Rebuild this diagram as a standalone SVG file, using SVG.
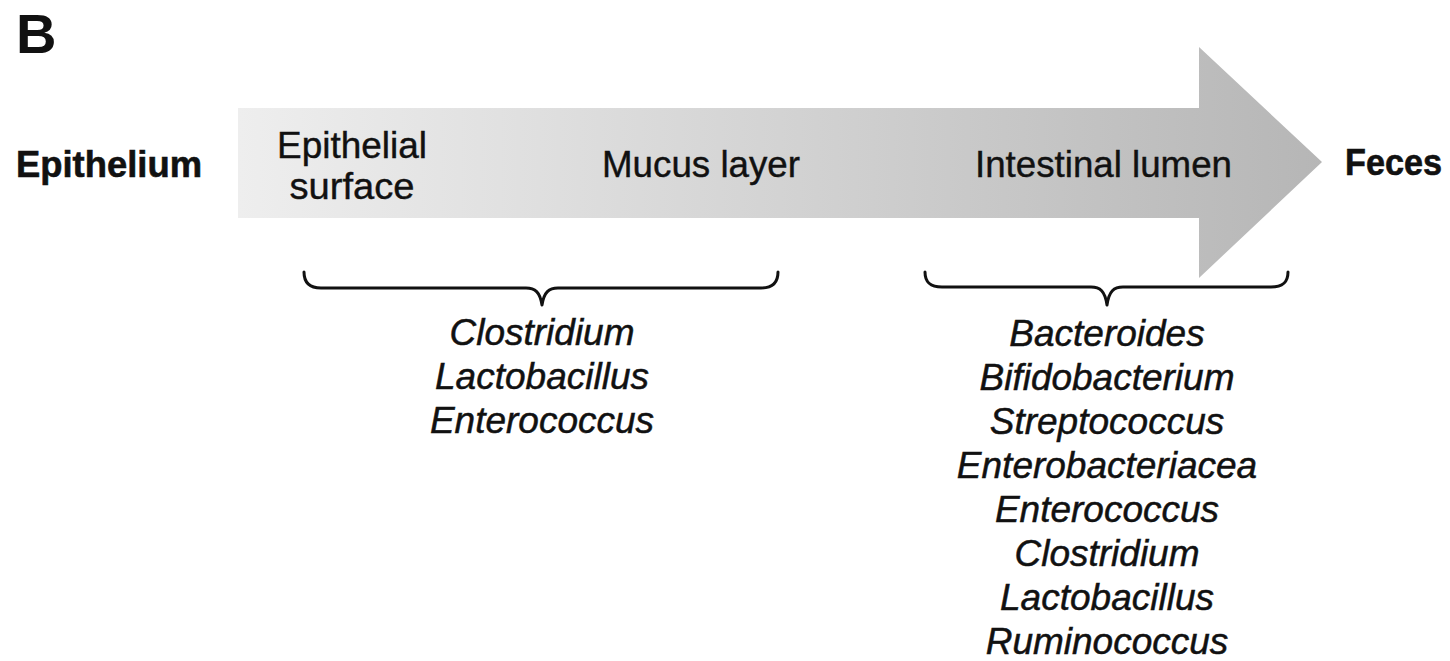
<svg xmlns="http://www.w3.org/2000/svg" width="1450" height="661" viewBox="0 0 1450 661">
<defs>
<linearGradient id="grad" gradientUnits="userSpaceOnUse" x1="238" y1="0" x2="1322" y2="0">
<stop offset="0" stop-color="#eeeeee"/>
<stop offset="0.5" stop-color="#d3d3d3"/>
<stop offset="1" stop-color="#b6b6b6"/>
</linearGradient>
<style>
text{font-family:"Liberation Sans",Arial,sans-serif;fill:#111}
.b{font-weight:bold}
.lab{font-size:36px;stroke:#111;stroke-width:0.4}
.b.lab{stroke-width:0.6}
.it{font-size:37px;font-style:italic;text-anchor:middle;stroke:#111;stroke-width:0.5}
.brace{fill:none;stroke:#111;stroke-width:3;stroke-linecap:round;stroke-linejoin:round}
</style>
</defs>
<rect width="1450" height="661" fill="#ffffff"/>
<text class="b" x="16" y="53" font-size="56">B</text>
<g id="arrow">
<path d="M238,108 L1199,108 L1199,47 L1322,162 L1199,278 L1199,218 L238,218 Z" fill="url(#grad)"/>
</g>
<g id="epithelium"><text class="b lab" x="16" y="177" textLength="186" lengthAdjust="spacingAndGlyphs">Epithelium</text></g>
<g id="feces"><text class="b lab" x="1345" y="175" textLength="97" lengthAdjust="spacingAndGlyphs">Feces</text></g>
<g id="epithelial-surface">
<text class="lab" x="352" y="158" text-anchor="middle" textLength="150" lengthAdjust="spacingAndGlyphs">Epithelial</text>
<text class="lab" x="352" y="199" text-anchor="middle" textLength="125" lengthAdjust="spacingAndGlyphs">surface</text>
</g>
<g id="mucus-layer"><text class="lab" x="602" y="177" textLength="198" lengthAdjust="spacingAndGlyphs">Mucus layer</text></g>
<g id="intestinal-lumen"><text class="lab" x="975" y="177" textLength="257" lengthAdjust="spacingAndGlyphs">Intestinal lumen</text></g>
<g id="connectors">
<path class="brace" d="M304,272 C304,283 310,288 321,288 L526,288 C535,288 540,292 542,305 C544,292 549,288 558,288 L761,288 C772,288 778,283 778,272"/>
<path class="brace" d="M925,272 C925,283 931,287 942,287 L1091,287 C1100,287 1105,291 1107,305 C1109,291 1114,287 1123,287 L1271,287 C1282,287 1288,283 1288,272"/>
</g>
<g id="left-genera">
<text class="it" x="542" y="345">Clostridium</text>
<text class="it" x="542" y="389">Lactobacillus</text>
<text class="it" x="542" y="433">Enterococcus</text>
</g>
<g id="right-genera">
<text class="it" x="1107" y="346">Bacteroides</text>
<text class="it" x="1107" y="390">Bifidobacterium</text>
<text class="it" x="1107" y="434">Streptococcus</text>
<text class="it" x="1107" y="478">Enterobacteriacea</text>
<text class="it" x="1107" y="522">Enterococcus</text>
<text class="it" x="1107" y="566">Clostridium</text>
<text class="it" x="1107" y="610">Lactobacillus</text>
<text class="it" x="1107" y="654">Ruminococcus</text>
</g>
</svg>
